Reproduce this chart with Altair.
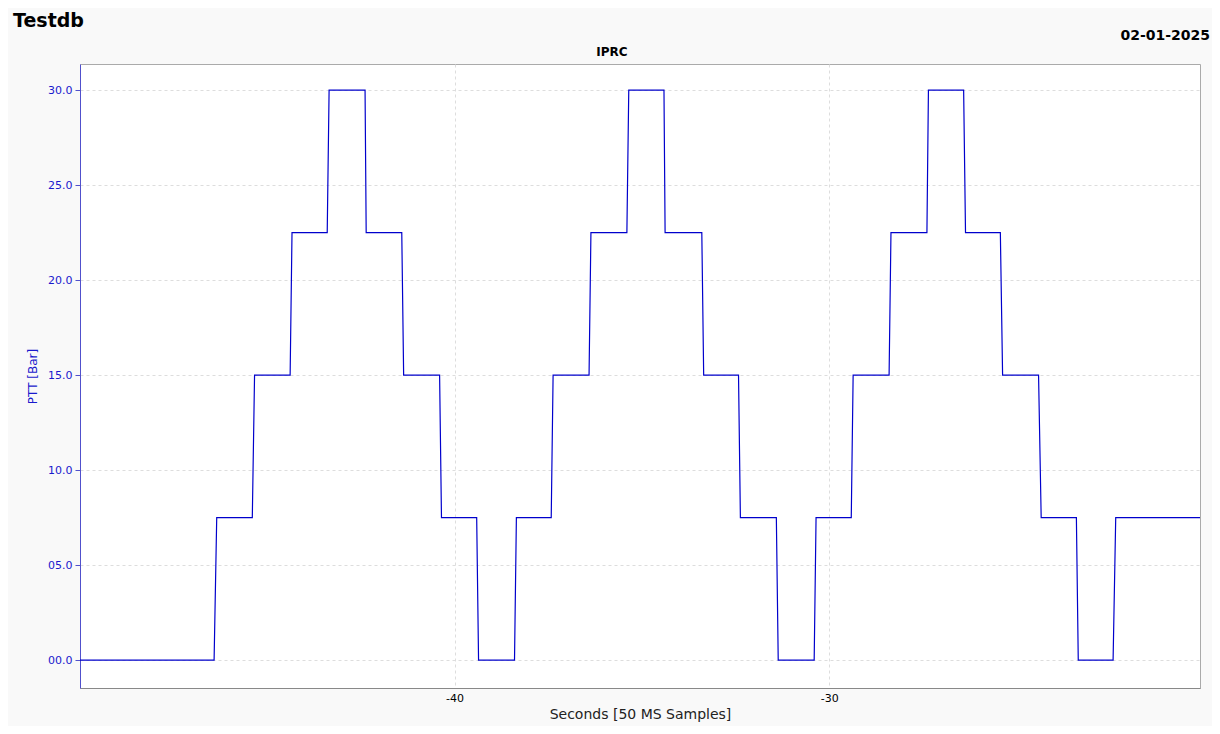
import altair as alt
import pandas as pd

# Plateau levels (Bar) in order, and the time (s) each plateau ends / the next one begins
levels = [0.0, 7.5, 15.0, 22.5, 30.0, 22.5, 15.0, 7.5,
          0.0, 7.5, 15.0, 22.5, 30.0, 22.5, 15.0, 7.5,
          0.0, 7.5, 15.0, 22.5, 30.0, 22.5, 15.0, 7.5,
          0.0, 7.5]
step_end = [-46.42, -45.40, -44.39, -43.40, -42.39, -41.41, -40.40, -39.41,
            -38.40, -37.42, -36.41, -35.40, -34.41, -33.40, -32.42, -31.41,
            -30.40, -29.41, -28.40, -27.39, -26.41, -25.43, -24.41, -23.40,
            -22.42]
step_next = [-46.35, -45.34, -44.34, -43.35, -42.36, -41.36, -40.35, -39.36,
             -38.35, -37.37, -36.36, -35.35, -34.38, -33.35, -32.37, -31.36,
             -30.35, -29.36, -28.35, -27.35, -26.36, -25.37, -24.34, -23.35,
             -22.35]
t_start = -50.0
t_stop = -20.1

rows = [{"t": t_start, "v": levels[0]}]
for i in range(len(step_end)):
    rows.append({"t": step_end[i], "v": levels[i]})
    rows.append({"t": step_next[i], "v": levels[i + 1]})
rows.append({"t": t_stop, "v": levels[-1]})
df = pd.DataFrame(rows)

FONT = "DejaVu Sans"
BLUE = "#0000cc"

line = alt.Chart(df).mark_line(color=BLUE, strokeWidth=1.2, clip=True).encode(
    x=alt.X("t:Q", scale=alt.Scale(domain=[-50, -20.1], nice=False, zero=False),
            axis=alt.Axis(values=[-40, -30], labelExpr="'' + datum.value",
                          title="Seconds [50 MS Samples]",
                          labelColor="#000000", labelFontSize=11, labelPadding=4,
                          ticks=False, domainColor="#888888",
                          titleFontSize=14, titleFontWeight="normal", titleColor="#222222",
                          titlePadding=4, grid=True)),
    y=alt.Y("v:Q", scale=alt.Scale(domain=[-1.47, 31.37], nice=False, zero=False),
            axis=alt.Axis(values=[0, 5, 10, 15, 20, 25, 30], format="04.1f", title="PTT [Bar]",
                          labelColor="#1a1acd", labelFontSize=11, labelPadding=3,
                          tickSize=5, tickColor="#5050cc", domainColor="#5050cc",
                          titleColor="#1a1acd", titleFontSize=12, titleFontWeight="normal",
                          titlePadding=8, grid=True)),
)

title_txt = alt.Chart(pd.DataFrame({"s": ["Testdb"]})).mark_text(
    align="left", baseline="alphabetic", fontSize=19, fontWeight="bold", font=FONT, color="#000000"
).encode(text="s:N", x=alt.value(-67), y=alt.value(-37))

date_txt = alt.Chart(pd.DataFrame({"s": ["02-01-2025"]})).mark_text(
    align="right", baseline="alphabetic", fontSize=14, fontWeight="bold", font=FONT, color="#000000"
).encode(text="s:N", x=alt.value(1130), y=alt.value(-24))

sub_txt = alt.Chart(pd.DataFrame({"s": ["IPRC"]})).mark_text(
    align="center", baseline="alphabetic", fontSize=12, fontWeight="bold", font=FONT, color="#000000"
).encode(text="s:N", x=alt.value(532), y=alt.value(-8))

chart = alt.layer(line, title_txt, date_txt, sub_txt).properties(
    width=1120, height=624,
    autosize=alt.AutoSizeParams(type="none"),
    padding={"left": 72, "top": 56, "right": 12, "bottom": 38},
    background="#f9f9f9",
).configure_view(
    fill="#ffffff", stroke="#aaaaaa", strokeWidth=1
).configure_axis(
    labelFont=FONT, titleFont=FONT, gridColor="#dddddd", gridDash=[3, 3], gridWidth=1,
    zindex=1
)

chart.save("out.html", embed_options={"renderer": "svg", "actions": False})
